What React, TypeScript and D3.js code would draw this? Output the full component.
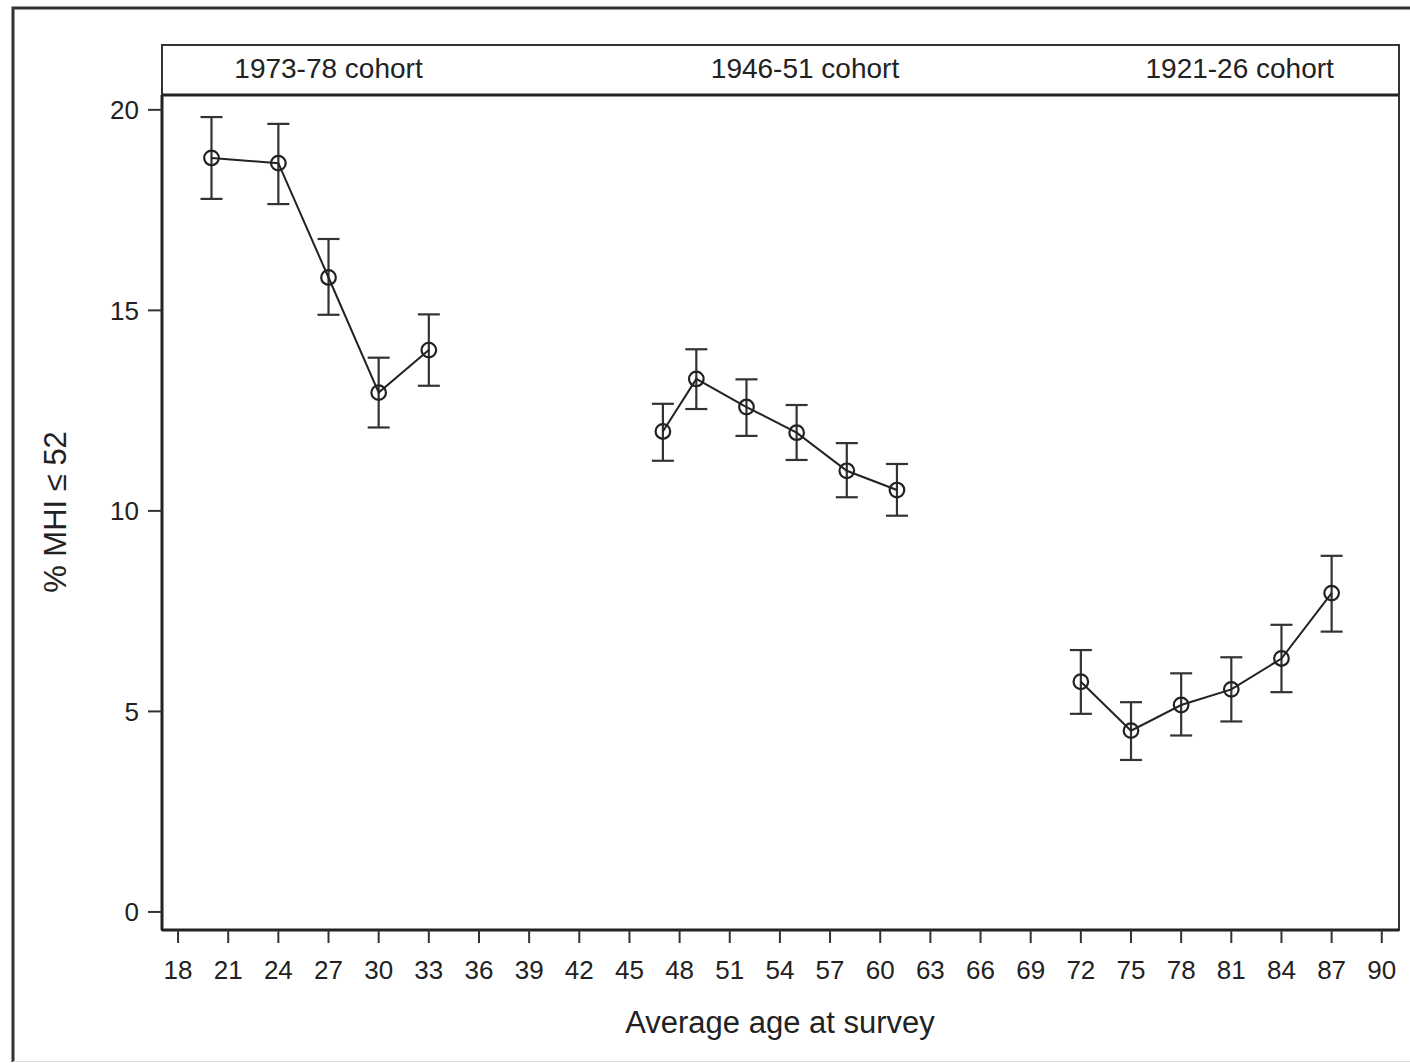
import React from 'react';
import * as d3 from 'd3';

// survey ages and % MHI <= 52, one list per cohort
const cohorts = ['1973-78 cohort', '1946-51 cohort', '1921-26 cohort'];
const ages = [
  [20, 24, 27, 30, 33],
  [47, 49, 52, 55, 58, 61],
  [72, 75, 78, 81, 84, 87],
];
const pct = [
  [18.8, 18.67, 15.82, 12.95, 14.01],
  [11.98, 13.29, 12.59, 11.95, 11.0, 10.52],
  [5.74, 4.52, 5.16, 5.55, 6.32, 7.95],
];
const lower = [
  [17.78, 17.65, 14.89, 12.08, 13.12],
  [11.25, 12.54, 11.87, 11.27, 10.34, 9.88],
  [4.94, 3.79, 4.4, 4.75, 5.48, 6.99],
];
const upper = [
  [19.82, 19.65, 16.78, 13.82, 14.9],
  [12.67, 14.03, 13.28, 12.64, 11.69, 11.17],
  [6.53, 5.23, 5.95, 6.35, 7.16, 8.88],
];
const xTicks = [18, 21, 24, 27, 30, 33, 36, 39, 42, 45, 48, 51, 54, 57, 60, 63, 66, 69, 72, 75, 78, 81, 84, 87, 90];
const yTicks = [0, 5, 10, 15, 20];

const W = 1410, H = 1063;
const left = 162, right = 1399, bandTop = 45, top = 95, bottom = 930;
const font = 'Arial, "Liberation Sans", sans-serif';
const ink = '#222';

export default function App() {
  const x = d3.scaleLinear().domain([17.04, 91.03]).range([left, right]);
  const y = d3.scaleLinear().domain([-0.45, 20.37]).range([bottom, top]);
  // where the cohort names sit in the band
  const labelAt = [27, 55.5, 81.5];

  return (
    <svg width={W} height={H} style={{ position: 'absolute', left: 0, top: 0, background: '#fff' }}
      fontFamily={font}>
      {/* outer frame */}
      <path d={`M13,1062 L13,8 L1420,8`} fill="none" stroke="#333" strokeWidth={3} />
      <line x1={13} x2={1410} y1={1061.5} y2={1061.5} stroke="#ddd" strokeWidth={1} />

      {/* cohort band */}
      <rect x={left} y={bandTop} width={right - left} height={top - bandTop} fill="none" stroke="#333" strokeWidth={2} />
      <line x1={left} x2={right} y1={top} y2={top} stroke="#222" strokeWidth={3} />
      {cohorts.map((c, i) => (
        <text key={c} x={x(labelAt[i])} y={78} textAnchor="middle" fontSize={28} fill={ink}>{c}</text>
      ))}

      {/* plot area */}
      <path d={`M${left},${top} L${left},${bottom} L${right},${bottom} L${right},${top}`} fill="none" stroke="#333" strokeWidth={2} />
      <line x1={left} x2={right} y1={bottom} y2={bottom} stroke="#222" strokeWidth={3} />
      <line x1={left} x2={left} y1={top} y2={bottom} stroke="#222" strokeWidth={3} />

      {yTicks.map(t => (
        <g key={t}>
          <line x1={148} x2={left} y1={y(t)} y2={y(t)} stroke="#333" strokeWidth={2} />
          <text x={139} y={y(t)} dy="0.36em" textAnchor="end" fontSize={26} fill={ink}>{t}</text>
        </g>
      ))}
      {xTicks.map(t => (
        <g key={t}>
          <line x1={x(t)} x2={x(t)} y1={bottom} y2={943} stroke="#333" strokeWidth={2} />
          <text x={x(t)} y={979} textAnchor="middle" fontSize={26} fill={ink}>{t}</text>
        </g>
      ))}

      <text x={780} y={1033} textAnchor="middle" fontSize={31} fill={ink}>Average age at survey</text>
      <text transform={`translate(66,512) rotate(-90)`} textAnchor="middle" fontSize={31} fill={ink}>% MHI ≤ 52</text>

      {ages.map((a, k) => {
        const path = d3.line<number>()
          .x(d => x(d))
          .y((d, i) => y(pct[k][i]))(a);
        return (
          <g key={k}>
            {a.map((age, i) => (
              <g key={age} stroke="#333" strokeWidth={2.2}>
                <line x1={x(age)} x2={x(age)} y1={y(upper[k][i])} y2={y(lower[k][i])} />
                <line x1={x(age) - 11} x2={x(age) + 11} y1={y(upper[k][i])} y2={y(upper[k][i])} />
                <line x1={x(age) - 11} x2={x(age) + 11} y1={y(lower[k][i])} y2={y(lower[k][i])} />
              </g>
            ))}
            <path d={path || ''} fill="none" stroke="#222" strokeWidth={2} />
            {a.map((age, i) => (
              <circle key={age} cx={x(age)} cy={y(pct[k][i])} r={7.3} fill="none" stroke="#222" strokeWidth={2.2} />
            ))}
          </g>
        );
      })}
    </svg>
  );
}
